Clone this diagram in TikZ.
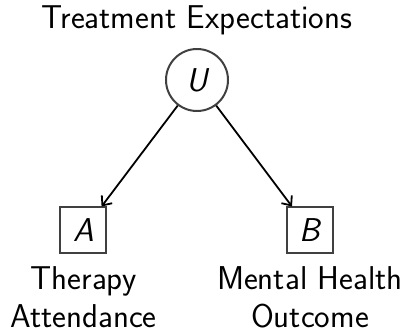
\documentclass[tikz,border=0pt]{standalone}
\usepackage{tikz}
\usetikzlibrary{positioning,arrows.meta}
\tikzstyle{latent} = [circle, draw=black!75, line width=1pt, minimum size=31pt, inner sep=0pt]
\tikzstyle{observed} = [rectangle, draw=black!75, line width=1pt, minimum size=23pt, inner sep=0pt]
\tikzstyle{caption} = [align=center, inner sep=0pt]

\begin{document}
\begin{tikzpicture}[x=0.5pt, y=0.5pt, font=\sffamily\fontsize{16.5}{19}\selectfont, >={Straight Barb[length=3.8pt, width=6.5pt]}]
	\useasboundingbox (0,0) rectangle (404,328);
	\node[latent] (U) at (197,248) {\itshape U};
	\node[observed] (A) at (83.5,97.5) {\itshape A};
	\node[observed] (B) at (310,97.5) {\itshape B};
	\node[caption, above=6.3pt of U] (expectations) {Treatment Expectations};
	\node[caption, below=5.8pt of A] (attendance) {Therapy\\Attendance};
	\node[caption, below=5.8pt of B] (outcome) {Mental Health\\Outcome};
	\draw[->, line width=0.9pt] (U) -- (A);
	\draw[->, line width=0.9pt] (U) -- (B);
\end{tikzpicture}
\end{document}
